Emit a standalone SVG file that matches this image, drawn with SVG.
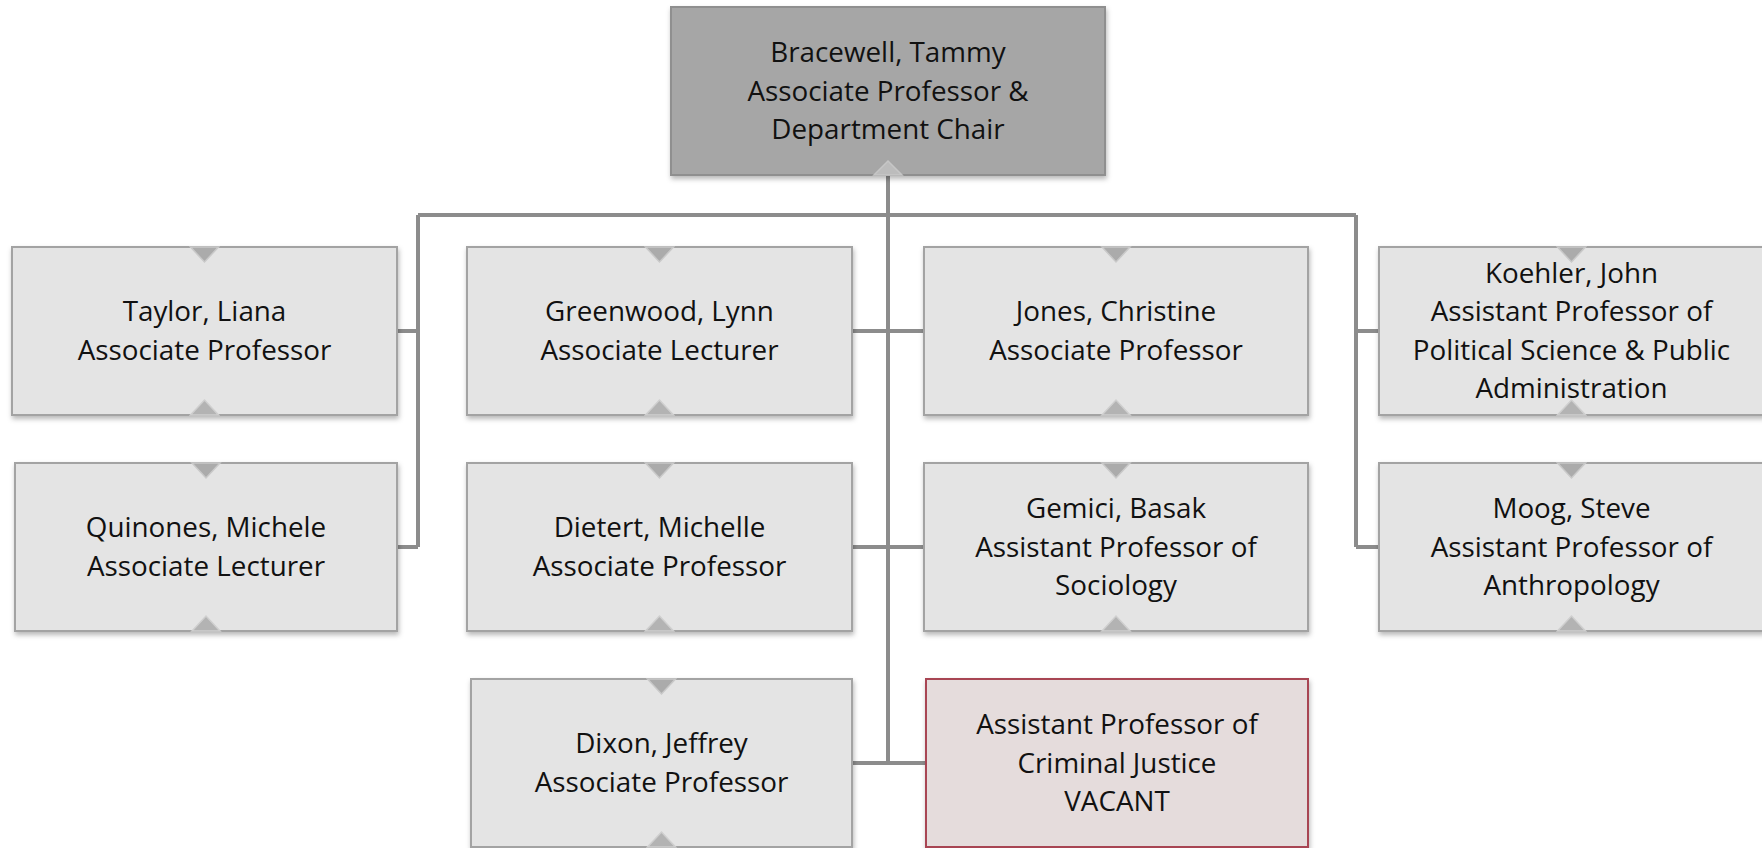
<svg xmlns="http://www.w3.org/2000/svg" width="1762" height="848" viewBox="0 0 1762 848">
<defs>
<filter id="sh" x="-5%" y="-5%" width="112%" height="120%">
<feDropShadow dx="1" dy="3" stdDeviation="2.5" flood-color="#000" flood-opacity="0.28"/>
</filter>
</defs>
<style>
.box{fill:#e4e4e4;stroke:#a3a3a3;stroke-width:2;filter:url(#sh)}
.top{fill:#a6a6a6;stroke:#8f8f8f;stroke-width:2;filter:url(#sh)}
.vac{fill:#e5dcdc;stroke:#a84452;stroke-width:2;filter:url(#sh)}
.nt{fill:#ababab;stroke:#c9c9c9;stroke-width:1.5}
.nb{fill:#b3b3b3;stroke:#cfcfcf;stroke-width:1.5}
.ntop{fill:#bcbcbc;stroke:#c6c6c6;stroke-width:1.5}
.ln{fill:none;stroke:#8c8c8c;stroke-width:4}
text{font-family:"Open Sans",Lato,sans-serif;font-size:27.8px;fill:#111;text-anchor:middle}
</style>
<g id="connectors">
<path class="ln" d="M888 175 V763"/>
<path class="ln" d="M418 215 H1356"/>
<path class="ln" d="M418 215 V547 M397 331 H418 M397 547 H418"/>
<path class="ln" d="M1356 215 V547 M1356 331 H1379 M1356 547 H1379"/>
<path class="ln" d="M852 331 H924 M852 547 H924 M852 763 H926"/>
</g>
<g id="bracewell">
<rect class="top" x="671" y="7" width="434" height="168"/>
<polygon class="ntop" points="874,175 902,175 888,161"/>
<text x="888" y="62">Bracewell, Tammy</text>
<text x="888" y="100.5">Associate Professor &amp;</text>
<text x="888" y="139">Department Chair</text>
</g>
<g id="taylor">
<rect class="box" x="12" y="247" width="385" height="168"/>
<polygon class="nt" points="190.5,247 218.5,247 204.5,262"/>
<polygon class="nb" points="190.5,415 218.5,415 204.5,400"/>
<text x="204.5" y="321">Taylor, Liana</text>
<text x="204.5" y="359.5">Associate Professor</text>
</g>
<g id="quinones">
<rect class="box" x="15" y="463" width="382" height="168"/>
<polygon class="nt" points="192,463 220,463 206,478"/>
<polygon class="nb" points="192,631 220,631 206,616"/>
<text x="206" y="537">Quinones, Michele</text>
<text x="206" y="575.5">Associate Lecturer</text>
</g>
<g id="greenwood">
<rect class="box" x="467" y="247" width="385" height="168"/>
<polygon class="nt" points="645.5,247 673.5,247 659.5,262"/>
<polygon class="nb" points="645.5,415 673.5,415 659.5,400"/>
<text x="659.5" y="321">Greenwood, Lynn</text>
<text x="659.5" y="359.5">Associate Lecturer</text>
</g>
<g id="dietert">
<rect class="box" x="467" y="463" width="385" height="168"/>
<polygon class="nt" points="645.5,463 673.5,463 659.5,478"/>
<polygon class="nb" points="645.5,631 673.5,631 659.5,616"/>
<text x="659.5" y="537">Dietert, Michelle</text>
<text x="659.5" y="575.5">Associate Professor</text>
</g>
<g id="dixon">
<rect class="box" x="471" y="679" width="381" height="168"/>
<polygon class="nt" points="647.5,679 675.5,679 661.5,694"/>
<polygon class="nb" points="647.5,847 675.5,847 661.5,832"/>
<text x="661.5" y="753">Dixon, Jeffrey</text>
<text x="661.5" y="791.5">Associate Professor</text>
</g>
<g id="jones">
<rect class="box" x="924" y="247" width="384" height="168"/>
<polygon class="nt" points="1102,247 1130,247 1116,262"/>
<polygon class="nb" points="1102,415 1130,415 1116,400"/>
<text x="1116" y="321">Jones, Christine</text>
<text x="1116" y="359.5">Associate Professor</text>
</g>
<g id="gemici">
<rect class="box" x="924" y="463" width="384" height="168"/>
<polygon class="nt" points="1102,463 1130,463 1116,478"/>
<polygon class="nb" points="1102,631 1130,631 1116,616"/>
<text x="1116" y="518">Gemici, Basak</text>
<text x="1116" y="556.5">Assistant Professor of</text>
<text x="1116" y="595">Sociology</text>
</g>
<g id="vacant">
<rect class="vac" x="926" y="679" width="382" height="168"/>
<text x="1117" y="734">Assistant Professor of</text>
<text x="1117" y="772.5">Criminal Justice</text>
<text x="1117" y="811">VACANT</text>
</g>
<g id="koehler">
<rect class="box" x="1379" y="247" width="385" height="168"/>
<polygon class="nt" points="1557.5,247 1585.5,247 1571.5,262"/>
<polygon class="nb" points="1557.5,415 1585.5,415 1571.5,400"/>
<text x="1571.5" y="282.5">Koehler, John</text>
<text x="1571.5" y="321">Assistant Professor of</text>
<text x="1571.5" y="359.5">Political Science &amp; Public</text>
<text x="1571.5" y="398">Administration</text>
</g>
<g id="moog">
<rect class="box" x="1379" y="463" width="385" height="168"/>
<polygon class="nt" points="1557.5,463 1585.5,463 1571.5,478"/>
<polygon class="nb" points="1557.5,631 1585.5,631 1571.5,616"/>
<text x="1571.5" y="518">Moog, Steve</text>
<text x="1571.5" y="556.5">Assistant Professor of</text>
<text x="1571.5" y="595">Anthropology</text>
</g>
</svg>
